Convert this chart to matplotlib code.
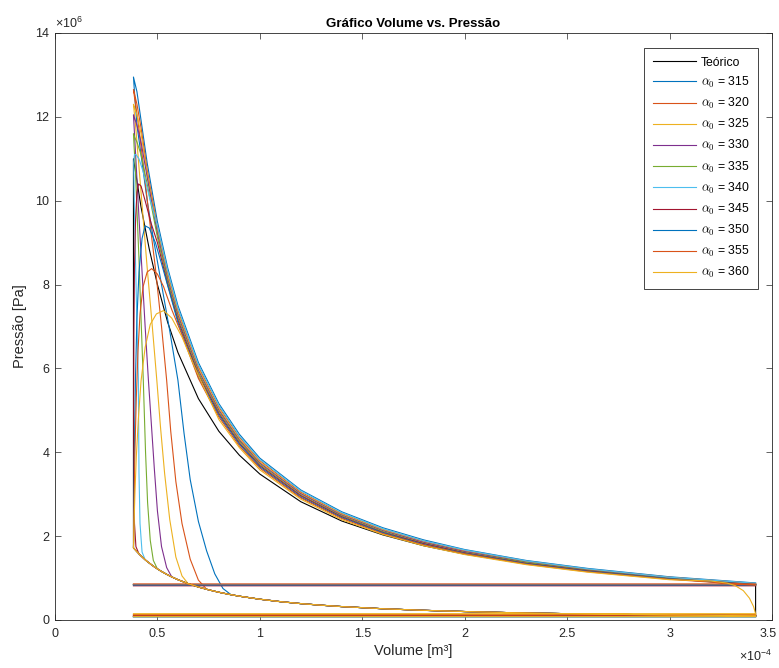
import numpy as np
import matplotlib.pyplot as plt
from matplotlib.transforms import ScaledTranslation

plt.rcParams['font.family'] = ['Liberation Sans', 'DejaVu Sans']
plt.rcParams['mathtext.fontset'] = 'cm'

# volume in 1e-4 m3, pressure in 1e6 Pa
comp_v = np.array([3.42, 3.0, 2.7, 2.5, 2.2, 2.0, 1.8, 1.6, 1.4, 1.3, 1.2, 1.1, 1.0, 0.9, 0.85, 0.8,
                   0.75, 0.7, 0.65, 0.6, 0.57, 0.55, 0.52, 0.5, 0.48, 0.45, 0.44, 0.42, 0.41, 0.40, 0.39, 0.383])
comp_p = np.array([0.100, 0.119, 0.136, 0.150, 0.177, 0.201, 0.230, 0.268, 0.319, 0.352, 0.390, 0.437, 0.495,
                   0.567, 0.611, 0.661, 0.719, 0.786, 0.866, 0.961, 1.027, 1.076, 1.157, 1.218, 1.284, 1.396,
                   1.437, 1.528, 1.576, 1.628, 1.682, 1.72])

# teorico (ciclo Otto ideal)
teo_v = np.array([0.383, 0.42, 0.46, 0.5, 0.55, 0.6, 0.7, 0.8, 0.9, 1.0, 1.2, 1.4, 1.6, 1.8, 2.0, 2.3, 2.6, 3.0, 3.42])
teo_p = np.array([11.0, 9.85, 8.85, 8.00, 7.10, 6.38, 5.28, 4.50, 3.93, 3.48, 2.82, 2.36, 2.03, 1.77, 1.57,
                  1.34, 1.16, 0.985, 0.85])

angles = [315, 320, 325, 330, 335, 340, 345, 350, 355, 360]

# combustao + inicio da expansao
head_v = {
    315: [0.86, 0.82, 0.78, 0.74, 0.70, 0.66, 0.63, 0.60, 0.56, 0.52, 0.48, 0.45, 0.42, 0.40, 0.39, 0.383,
          0.40, 0.42, 0.45, 0.5, 0.55],
    320: [0.74, 0.70, 0.66, 0.62, 0.59, 0.565, 0.545, 0.52, 0.49, 0.46, 0.43, 0.405, 0.39, 0.383,
          0.40, 0.42, 0.45, 0.5, 0.55],
    325: [0.65, 0.62, 0.59, 0.56, 0.535, 0.515, 0.497, 0.475, 0.45, 0.43, 0.41, 0.395, 0.385, 0.383,
          0.40, 0.42, 0.45, 0.5, 0.55],
    330: [0.57, 0.545, 0.52, 0.50, 0.485, 0.47, 0.456, 0.44, 0.425, 0.41, 0.398, 0.388, 0.383,
          0.40, 0.42, 0.45, 0.5, 0.55],
    335: [0.50, 0.48, 0.465, 0.452, 0.442, 0.431, 0.42, 0.41, 0.40, 0.392, 0.386, 0.383,
          0.39, 0.40, 0.42, 0.45, 0.5, 0.55],
    340: [0.44, 0.425, 0.415, 0.41, 0.407, 0.398, 0.39, 0.386, 0.384, 0.388,
          0.395, 0.41, 0.43, 0.46, 0.5, 0.55],
    345: [0.41, 0.395, 0.388, 0.385, 0.384, 0.385, 0.388, 0.393, 0.40, 0.408, 0.42, 0.44, 0.47, 0.5, 0.55],
    350: [0.383, 0.384, 0.385, 0.388, 0.393, 0.40, 0.41, 0.425, 0.44, 0.46, 0.49, 0.52, 0.56],
    355: [0.383, 0.384, 0.386, 0.39, 0.397, 0.405, 0.415, 0.43, 0.45, 0.472, 0.5, 0.53, 0.57, 0.62],
    360: [0.383, 0.384, 0.386, 0.39, 0.397, 0.407, 0.42, 0.44, 0.465, 0.495, 0.53, 0.57, 0.62, 0.68, 0.75],
}
head_p = {
    315: [0.60, 0.75, 1.10, 1.65, 2.35, 3.35, 4.45, 5.72, 6.90, 8.00, 9.10, 10.0, 11.1, 11.8, 12.45, 12.95,
          12.6, 11.92, 10.90, 9.50, 8.40],
    320: [0.735, 0.95, 1.45, 2.30, 3.30, 4.50, 5.72, 7.00, 8.40, 9.60, 10.9, 11.9, 12.4, 12.65,
          12.3, 11.74, 10.73, 9.36, 8.27],
    325: [0.866, 1.05, 1.50, 2.40, 3.50, 4.60, 5.72, 7.00, 8.40, 9.60, 10.8, 11.7, 12.2, 12.3,
          12.05, 11.6, 10.65, 9.28, 8.20],
    330: [1.027, 1.25, 1.75, 2.60, 3.60, 4.70, 5.72, 7.00, 8.30, 9.60, 10.7, 11.6, 12.05,
          11.8, 11.4, 10.56, 9.21, 8.13],
    335: [1.218, 1.42, 1.90, 2.80, 4.00, 5.72, 7.20, 8.60, 9.80, 10.8, 11.3, 11.6,
          11.5, 11.4, 11.1, 10.4, 9.13, 8.07],
    340: [1.437, 1.62, 2.30, 3.50, 5.72, 7.50, 9.20, 10.3, 10.9, 11.1,
          11.1, 11.0, 10.7, 10.1, 9.40, 8.33],
    345: [1.576, 1.75, 2.30, 3.50, 5.00, 6.80, 8.40, 9.50, 10.2, 10.4, 10.35, 10.0, 9.45, 9.00, 8.00],
    350: [1.72, 1.90, 2.80, 4.20, 5.80, 7.20, 8.30, 9.10, 9.40, 9.35, 9.00, 8.50, 7.80],
    355: [1.72, 1.90, 2.80, 4.00, 5.30, 6.40, 7.30, 7.95, 8.30, 8.38, 8.25, 7.95, 7.40, 6.80],
    360: [1.72, 1.85, 2.30, 3.00, 3.90, 4.80, 5.70, 6.50, 7.05, 7.30, 7.38, 7.20, 6.75, 6.05, 5.30],
}

# fim da expansao
tail_v = np.array([0.6, 0.7, 0.8, 0.9, 1.0, 1.2, 1.4, 1.6, 1.8, 2.0, 2.3, 2.6, 3.0, 3.42])
tail_p = {
    315: [7.50, 6.14, 5.16, 4.43, 3.86, 3.10, 2.58, 2.20, 1.91, 1.68, 1.42, 1.23, 1.03, 0.883],
    320: [7.38, 6.04, 5.08, 4.36, 3.80, 3.05, 2.54, 2.16, 1.88, 1.65, 1.40, 1.21, 1.02, 0.869],
    325: [7.33, 5.99, 5.04, 4.32, 3.77, 3.03, 2.52, 2.15, 1.86, 1.64, 1.39, 1.20, 1.01, 0.862],
    330: [7.27, 5.95, 5.00, 4.29, 3.74, 3.01, 2.50, 2.13, 1.85, 1.63, 1.38, 1.19, 1.00, 0.855],
    335: [7.21, 5.90, 4.96, 4.26, 3.71, 2.98, 2.48, 2.11, 1.83, 1.61, 1.37, 1.18, 0.99, 0.848],
    340: [7.44, 6.09, 5.12, 4.39, 3.83, 3.08, 2.56, 2.18, 1.89, 1.67, 1.41, 1.22, 1.02, 0.876],
    345: [7.15, 5.85, 4.92, 4.22, 3.68, 2.96, 2.46, 2.09, 1.82, 1.60, 1.35, 1.17, 0.98, 0.842],
    350: [7.09, 5.80, 4.88, 4.19, 3.65, 2.93, 2.44, 2.08, 1.80, 1.59, 1.34, 1.16, 0.98, 0.835],
    355: [7.03, 5.76, 4.84, 4.15, 3.62, 2.91, 2.42, 2.06, 1.79, 1.58, 1.33, 1.15, 0.97, 0.828],
    360: [6.96, 5.69, 4.78, 4.11, 3.58, 2.88, 2.39, 2.04, 1.77, 1.56, 1.32, 1.14, 0.96, 0.819],
}

# linhas de escape e admissao (pressao constante)
p_esc = {315: 0.845, 320: 0.850, 325: 0.840, 330: 0.845, 335: 0.840, 340: 0.845,
         345: 0.815, 350: 0.835, 355: 0.858, 360: 0.15}
p_adm = {315: 0.08, 320: 0.11, 325: 0.13, 330: 0.08, 335: 0.08, 340: 0.08,
         345: 0.10, 350: 0.08, 355: 0.12, 360: 0.08}

# escape do caso 360
esc_v = [3.2, 3.28, 3.32, 3.36, 3.39, 3.41, 3.42]
esc_p = [0.93, 0.88, 0.82, 0.70, 0.52, 0.32, 0.15]

colors = ['#0072BD', '#D95319', '#EDB120', '#7E2F8E', '#77AC30', '#4DBEEE', '#A2142F']

fig = plt.figure(figsize=(7.79, 6.68), dpi=100)
ax = fig.add_axes([0.0706, 0.0719, 0.9204, 0.8787])

lw = 0.8
nan = [np.nan]
v_min, v_max = comp_v[-1], comp_v[0]

# teorico
vt = np.concatenate([comp_v, teo_v, [teo_v[-1]]])
pt = np.concatenate([comp_p, teo_p, [comp_p[0]]])
ax.plot(vt, pt, color='k', lw=lw, label='Teórico')

for i, a in enumerate(angles):
    hv = np.array(head_v[a])
    hp = np.array(head_p[a])
    tp = np.array(tail_p[a])
    m = comp_v > hv[0]
    if a == 360:
        mt = (tail_v > hv[-1]) & (tail_v < esc_v[0])
        v = np.concatenate([comp_v[m], hv, tail_v[mt], esc_v])
        p = np.concatenate([comp_p[m], hp, tp[mt], esc_p])
    else:
        mt = tail_v > hv[-1]
        v = np.concatenate([comp_v[m], hv, tail_v[mt]])
        p = np.concatenate([comp_p[m], hp, tp[mt]])
    v = np.concatenate([v, nan, [v_max, v_min], nan, [v_min, v_max]])
    p = np.concatenate([p, nan, [p_esc[a], p_esc[a]], nan, [p_adm[a], p_adm[a]]])
    ax.plot(v, p, color=colors[i % len(colors)], lw=lw, label=r'$\alpha_0$ = %d' % a)

ax.set_xlim(0, 3.5)
ax.set_ylim(0, 14)
ax.set_xticks(np.arange(0, 3.51, 0.5))
ax.set_xticklabels(['0', '0.5', '1', '1.5', '2', '2.5', '3', '3.5'])
ax.set_yticks(np.arange(0, 15, 2))
ax.set_yticklabels([str(k) for k in range(0, 15, 2)])
ax.tick_params(direction='in', length=4, width=0.5, top=True, right=True, labelsize=9,
               colors='#262626')
ax.tick_params(axis='x', pad=6)
ax.tick_params(axis='y', pad=4)
for s in ax.spines.values():
    s.set_linewidth(0.6)
    s.set_color('#262626')
# ultimo rotulo do eixo x um pouco para dentro
last = ax.get_xticklabels()[-1]
last.set_transform(last.get_transform() + ScaledTranslation(-3 / 72, 0, fig.dpi_scale_trans))

ax.set_title('Gráfico Volume vs. Pressão', fontsize=9.5, fontweight='bold', pad=4)
ax.set_xlabel('Volume [m³]', fontsize=10.5, color='#262626', labelpad=3)
ax.set_ylabel('Pressão [Pa]', fontsize=10.5, color='#262626', labelpad=6)
ax.text(0.0, 1.003, '×10$^{\\mathregular{6}}$', transform=ax.transAxes, ha='left', va='bottom',
        fontsize=9, color='#262626')
ax.text(1.0, -0.05, '×10$^{\\mathregular{-4}}$', transform=ax.transAxes, ha='right', va='top',
        fontsize=9, color='#262626')

leg = ax.legend(loc='upper right', bbox_to_anchor=(0.9805, 0.9744), borderaxespad=0, fontsize=8.8,
                fancybox=False, framealpha=1, edgecolor='#262626', handlelength=3.5,
                handletextpad=0.4, labelspacing=0.5, borderpad=0.7)
leg.get_frame().set_linewidth(0.6)

fig.savefig('out.png', dpi=100)
